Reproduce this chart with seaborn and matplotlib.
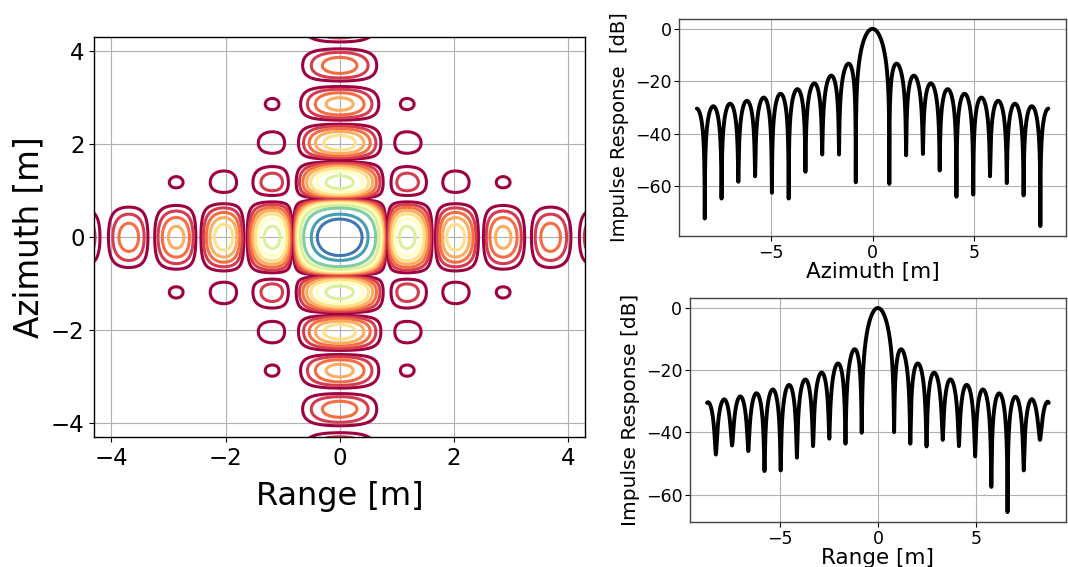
import numpy as np
import matplotlib
matplotlib.use("Agg")
import matplotlib.pyplot as plt
import seaborn as sns

# ---------------- data ----------------
# null spacing (resolution) of the impulse response [m]
null_spacing_rg = 0.825
null_spacing_az = 0.825
# extent of the 1-D cuts [m]
az_extent = 8.64
rg_extent = 8.70
# depth of each null in the 1-D cuts [dB], from left (-10th null) to right (+10th null)
az_null_depth_db = [-72.3, -64.7, -58.3, -56.2, -62.5, -64.7, -54.5, -47.9, -47.9, -58.5,
                    -59.1, -48.2, -47.7, -54.0, -64.0, -63.2, -56.2, -58.8, -63.5, -75.2]
rg_null_depth_db = [-47.1, -44.2, -46.0, -52.4, -52.2, -48.1, -44.4, -42.0, -43.6, -40.1,
                    -39.9, -43.6, -44.5, -42.4, -44.4, -47.7, -57.5, -65.6, -52.2, -42.4]
null_index = [k for k in range(-10, 11) if k != 0]
# contour levels of the 2-D impulse response [dB]
contour_levels_db = [-35, -29, -25, -22, -19.5, -17, -14.5, -11, -6, -3.5]
map_extent = 4.3
xticks_map = [-4, -2, 0, 2, 4]
xticks_cut = [-5, 0, 5]
yticks_cut = [-60, -40, -20, 0]


def sinc_db(u):
    a = np.abs(np.sinc(u))
    return 20 * np.log10(np.maximum(a, 1e-12))


def cut_profile(extent, spacing, depths):
    nulls = np.array(null_index) * spacing
    x = np.union1d(np.linspace(-extent, extent, 6001), nulls[np.abs(nulls) <= extent])
    u = x / spacing
    amp2 = np.sinc(u) ** 2
    floor = np.zeros_like(x)
    k = np.rint(u).astype(int)
    for kk, d in zip(null_index, depths):
        floor[k == kk] = 10 ** (d / 10)
    y = 10 * np.log10(amp2 + floor + 1e-30)
    return x, y


# ---------------- style ----------------
sns.set_theme(style="whitegrid", rc={
    "axes.edgecolor": "black",
    "axes.linewidth": 1.0,
    "grid.color": "#b0b0b0",
    "grid.linewidth": 0.8,
    "xtick.bottom": True,
    "ytick.left": True,
    "xtick.color": "black",
    "ytick.color": "black",
    "axes.labelcolor": "black",
    "xtick.major.size": 3.5,
    "ytick.major.size": 3.5,
    "xtick.major.width": 0.8,
    "ytick.major.width": 0.8,
})
plt.rcParams["font.family"] = ["DejaVu Sans"]

fig = plt.figure(figsize=(10.68, 5.67), dpi=100)

# ---------------- left: 2-D contour map ----------------
ax0 = fig.add_axes([0.0883, 0.2287, 0.4595, 0.7055])
g = np.linspace(-map_extent - 0.05, map_extent + 0.05, 901)
RX, AY = np.meshgrid(g, g)
Z = sinc_db(RX / null_spacing_rg) + sinc_db(AY / null_spacing_az)
cmap = plt.get_cmap("Spectral")
color_pos = [0.0, 0.1, 0.2, 0.3, 0.4, 0.5, 0.62, 0.76, 0.86, 0.93]
colors = [cmap(p) for p in color_pos]
ax0.contour(RX, AY, Z, levels=contour_levels_db, colors=colors, linewidths=2.2)
ax0.set_xlim(-map_extent, map_extent)
ax0.set_ylim(-map_extent, map_extent)
ax0.set_xticks(xticks_map)
ax0.set_yticks(xticks_map)
ax0.tick_params(labelsize=16.5)
ax0.set_xlabel("Range [m]", fontsize=23, labelpad=8)
ax0.set_ylabel("Azimuth [m]", fontsize=23.5)
for s in ax0.spines.values():
    s.set_color("black")

# ---------------- right top: azimuth cut ----------------
ax1 = fig.add_axes([0.636, 0.5838, 0.362, 0.3827])
xa, ya = cut_profile(az_extent, null_spacing_az, az_null_depth_db)
sns.lineplot(x=xa, y=ya, ax=ax1, color="black", linewidth=2.8, estimator=None, sort=False)
ax1.set_xticks(xticks_cut)
ax1.set_yticks(yticks_cut)
ax1.tick_params(labelsize=12.5, pad=2)
ax1.set_xlabel("Azimuth [m]", fontsize=15.5, labelpad=0)
ax1.set_ylabel("Impulse Response  [dB]", fontsize=14)

# ---------------- right bottom: range cut ----------------
ax2 = fig.add_axes([0.646, 0.0788, 0.352, 0.396])
xr, yr = cut_profile(rg_extent, null_spacing_rg, rg_null_depth_db)
sns.lineplot(x=xr, y=yr, ax=ax2, color="black", linewidth=2.8, estimator=None, sort=False)
ax2.set_xticks(xticks_cut)
ax2.set_yticks(yticks_cut)
ax2.tick_params(labelsize=12.5, pad=2)
ax2.set_xlabel("Range [m]", fontsize=15.5, labelpad=0)
ax2.set_ylabel("Impulse Response [dB]", fontsize=14.5)

for ax in (ax1, ax2):
    for s in ax.spines.values():
        s.set_color("#444444")

fig.savefig("out.png", dpi=100)
